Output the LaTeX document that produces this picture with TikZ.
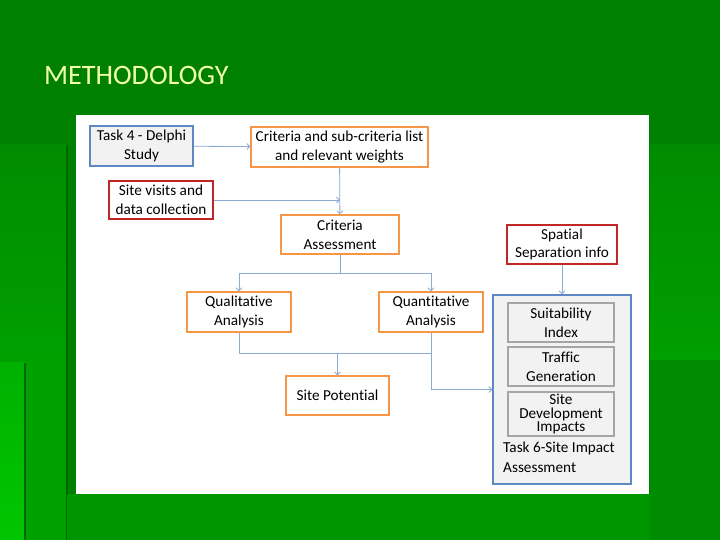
\documentclass[tikz,border=0pt]{standalone}
\usepackage{fontspec}
\setmainfont[Ligatures={NoCommon}]{Carlito}
\usepackage{xcolor}
\usepackage{tikz}
\usetikzlibrary{positioning}
\usetikzlibrary{arrows.meta}

\definecolor{slidetop}{RGB}{0,128,0}
\definecolor{slidemid}{RGB}{0,140,0}
\definecolor{slidelow}{RGB}{0,176,0}
\definecolor{slidebright}{RGB}{0,198,0}
\definecolor{slidebottom}{RGB}{0,150,0}
\definecolor{slidestrip}{RGB}{0,160,0}
\definecolor{titleyellow}{RGB}{240,255,170}
\definecolor{boxorange}{RGB}{247,150,70}
\definecolor{boxred}{RGB}{192,40,40}
\definecolor{boxblue}{RGB}{95,135,195}
\definecolor{boxgray}{RGB}{165,165,165}
\definecolor{boxfill}{RGB}{242,242,242}
\definecolor{linkblue}{RGB}{140,170,210}

\tikzset{
  box/.style={draw, line width=1.2pt, align=center, inner sep=2pt,
    font=\fontsize{13}{16}\selectfont},
  orangebox/.style={box, draw=boxorange, fill=white},
  redbox/.style={box, draw=boxred, fill=white},
  bluebox/.style={box, draw=boxblue, fill=boxfill},
  graybox/.style={box, draw=boxgray, fill=boxfill, line width=1pt},
  link/.style={draw=linkblue, line width=0.7pt},
  arrowlink/.style={link, -{Straight Barb[length=2.5pt,width=5pt]}}
}

\begin{document}
\begin{tikzpicture}[x=0.03cm,y=-0.03cm]

\useasboundingbox (0,0) rectangle (720,540);

% slide background
\fill[slidetop] (0,0) rectangle (720,540);
\shade[top color=slidemid, bottom color=slidelow] (0,145) rectangle (67,540);
\shade[top color=slidelow, bottom color=slidebright] (0,363) rectangle (25,540);
\fill[slidestrip] (25,363) rectangle (67,540);
\draw[slidetop!80!black, line width=1pt] (25,363) -- (25,540);
\draw[slidetop!80!black, line width=1pt] (67,145) -- (67,540);
\shade[top color=slidemid, bottom color=slidelow!90!black] (650,145) rectangle (720,360);
\fill[slidemid] (650,360) rectangle (720,540);
\fill[slidebottom] (67,494) rectangle (650,540);

% title
\node[anchor=west, text=titleyellow, font=\fontsize{24}{28}\selectfont] (title) at (40,75) {METHODOLOGY};

% white panel
\fill[white] (76,115) rectangle (649,494);

% Task 6 container
\node[bluebox, minimum width=4.14cm, minimum height=5.67cm] (task6) at (562,389.5) {};
\node[anchor=west, align=left, inner sep=0pt, font=\fontsize{13}{17}\selectfont] (task6label) at (503,457.5) {Task 6-Site Impact\\Assessment};

% boxes inside Task 6
\node[graybox, minimum width=3.18cm, minimum height=1.17cm] (suit) at (561,322.5) {Suitability\\Index};
\node[graybox, minimum width=3.18cm, minimum height=1.17cm] (traffic) at (561,366.5) {Traffic\\Generation};
\node[graybox, minimum width=3.18cm, minimum height=1.32cm, inner sep=1pt, font=\fontsize{13}{11.5}\selectfont] (sitedev) at (561,414) {Site\\Development\\Impacts};

% left column of boxes
\node[bluebox, minimum width=3.09cm, minimum height=1.2cm] (task4) at (141.5,146) {Task 4 - Delphi\\Study};
\node[orangebox, minimum width=5.31cm, minimum height=1.2cm] (critlist) at (339.5,147) {Criteria and sub-criteria list\\and relevant weights};
\node[redbox, minimum width=3.12cm, minimum height=1.14cm] (sitevisit) at (161,200) {Site visits and\\data collection};
\node[orangebox, minimum width=3.54cm, minimum height=1.17cm] (critassess) at (340,234.5) {Criteria\\Assessment};
\node[redbox, minimum width=3.3cm, minimum height=1.17cm] (spatial) at (562,244.5) {Spatial\\Separation info};
\node[orangebox, minimum width=3.12cm, minimum height=1.2cm] (qual) at (239,312) {Qualitative\\Analysis};
\node[orangebox, minimum width=3.12cm, minimum height=1.2cm] (quant) at (431,312) {Quantitative\\Analysis};
\node[orangebox, minimum width=3.09cm, minimum height=1.17cm] (sitepot) at (337.5,395.5) {Site Potential};

% connectors
\draw[arrowlink] (task4) -- (critlist);
\draw[arrowlink] (critlist) -- (critassess);
\draw[arrowlink] (sitevisit.east) -- (sitevisit.east -| critassess.north);

\coordinate (split) at (340,273);
\draw[link] (critassess.south) -- (split);
\draw[arrowlink] (split) -| (qual.north);
\draw[arrowlink] (split) -| (quant.north);

\coordinate (merge) at (337.5,353);
\draw[link] (qual.south) |- (quant.south |- merge);
\draw[arrowlink] (merge) -- (sitepot);
\draw[arrowlink] (quant.south) |- (task6.west);

\draw[arrowlink] (spatial) -- (task6.north);

\end{tikzpicture}
\end{document}
